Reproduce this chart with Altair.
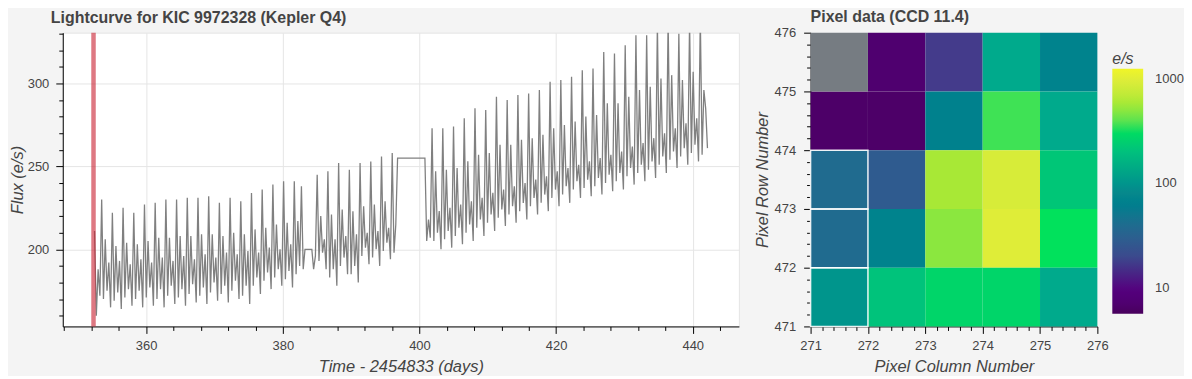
import numpy as np
import pandas as pd
import altair as alt

FONT = "Liberation Sans"
TXT = "#444444"
BG = "#f4f4f4"

# ---------------- Light curve (flux in e/s) ----------------
seg_a_span = [352.45, 383.25]
seg_a_flux = [
    211, 160, 188, 172,
    230, 170, 206, 175, 192, 165,
    222, 169, 202, 174, 193, 164,
    225, 171, 204, 176, 191, 166,
    222, 170, 203, 175, 194, 165,
    227, 171, 205, 177, 192, 166,
    228, 170, 207, 176, 195, 165,
    230, 172, 207, 178, 193, 167,
    230, 171, 208, 176, 196, 166,
    231, 173, 208, 179, 194, 168,
    231, 172, 209, 177, 197, 167,
    232, 174, 209, 180, 195, 169,
    228, 173, 208, 178, 198, 168,
    231, 175, 210, 181, 197, 170,
    229, 172, 209, 178, 199, 167,
    234, 178, 212, 183, 198, 173,
    236, 181, 213, 186, 201, 176,
    239, 183, 215, 188, 200, 178,
    241, 182, 216, 187, 203, 177,
    241, 185, 217, 190, 238, 188,
    200,
]
seg_b_span = [384.25, 396.80]
seg_b_flux = [
    200, 188, 196,
    245, 193, 220, 198, 206, 188,
    247, 183, 221, 188, 206, 178,
    252, 190, 224, 195, 208, 185,
    248, 185, 223, 190, 209, 180,
    252, 196, 226, 201, 210, 191,
    253, 195, 227, 200, 211, 190,
    256, 199, 229, 204, 213, 194,
    258, 198, 215,
    255,
]
seg_c_span = [400.80, 442.15]
seg_c_flux = [
    255, 205, 218, 207,
    273, 205, 247, 210, 223, 200,
    273, 206, 248, 211, 225, 201,
    274, 208, 249, 213, 227, 203,
    279, 210, 253, 215, 229, 205,
    285, 213, 257, 218, 231, 208,
    284, 216, 258, 221, 234, 211,
    292, 219, 263, 224, 236, 214,
    290, 221, 263, 226, 238, 216,
    293, 223, 266, 228, 240, 218,
    294, 226, 267, 231, 242, 221,
    296, 228, 269, 233, 244, 223,
    301, 231, 273, 236, 247, 226,
    302, 233, 275, 238, 249, 228,
    304, 236, 277, 241, 251, 231,
    308, 237, 280, 242, 253, 232,
    309, 238, 281, 243, 255, 233,
    319, 240, 288, 245, 257, 235,
    318, 241, 288, 246, 259, 236,
    323, 244, 292, 249, 262, 239,
    329, 246, 296, 251, 264, 241,
    329, 248, 298, 253, 267, 243,
    336, 251, 303, 256, 270, 246,
    338, 254, 305, 259, 273, 249,
    330, 256, 302, 261, 276, 251,
    337, 258, 307, 263, 279, 253,
    340, 257, 296, 285, 261,
]
selected_time = [352.3]

# ---------------- Pixel data (e/s) ----------------
pixel_rows = [475, 474, 473, 472, 471]
pixel_cols = [271, 272, 273, 274, 275]
pixel_flux = [
    [None, 7, 16, 144, 71],
    [6.5, 6.5, 67, 360, 144],
    [39, 28, 590, 910, 222],
    [39, 71, 500, 1000, 325],
    [100, 210, 275, 275, 144],
]
aperture_cols = [271, 271, 271]
aperture_rows = [471, 472, 473]

# colour bar as rendered in the figure (low -> high, log spaced)
colorbar_colors = [
    "#48005c", "#500073", "#54007d", "#4e1e87", "#433e8b", "#394e8d", "#2f5c8f",
    "#23698f", "#12758e", "#007f8d", "#0a8a8b", "#009b8c", "#00aa8c", "#00bc80",
    "#00cd70", "#00e15c", "#69e44b", "#a0e837", "#c3ea37", "#dcec3a", "#f0f528",
]

# ---------------- tables ----------------
segments = [(seg_a_span, seg_a_flux), (seg_b_span, seg_b_flux), (seg_c_span, seg_c_flux)]
times = np.concatenate([np.linspace(s[0], s[1], len(f)) for s, f in segments])
fluxes = np.concatenate([np.array(f, dtype=float) for _, f in segments])
lc_df = pd.DataFrame({"time": times, "flux": fluxes})
sel_df = pd.DataFrame({"time": selected_time})

cells = []
for r, row_vals in zip(pixel_rows, pixel_flux):
    for c, v in zip(pixel_cols, row_vals):
        cells.append({"col": c, "row": r, "col_end": c + 1, "row_end": r + 1, "value": v})
px_df = pd.DataFrame(cells)
ap_df = pd.DataFrame({"col": aperture_cols, "row": aperture_rows,
                      "col_end": [c + 1 for c in aperture_cols],
                      "row_end": [r + 1 for r in aperture_rows]})


def cond(test, a, b):
    return {"condition": {"test": test, "value": a}, "value": b}


def make_axis(title, values, major, grid, label_pad, title_pad, label_text="datum.label"):
    kw = dict(
        title=title, values=values,
        labelExpr=f"({major}) ? {label_text} : ''",
        tickSize=cond(major, 7, 4),
        grid=grid, gridColor="#e5e5e5",
        domainColor="#000000", tickColor="#000000",
        labelColor=TXT, labelFontSize=13, labelFont=FONT,
        labelPadding=label_pad, labelFlush=False, labelOverlap=False,
        titleFont=FONT, titleFontSize=16.5, titleFontStyle="italic",
        titleFontWeight="normal", titleColor=TXT, titlePadding=title_pad,
    )
    if grid:
        kw["gridOpacity"] = cond(major, 1, 0)
    return alt.Axis(**kw)


# ---------------- left: light curve ----------------
xmaj = "datum.value % 20 === 0"
ymaj = "datum.value % 50 === 0"
lc_x = alt.X("time:Q", scale=alt.Scale(domain=[347.8, 446.75], nice=False, zero=False),
             axis=make_axis("Time - 2454833 (days)", list(range(348, 447, 4)), xmaj, True, 6, 6))
lc_y = alt.Y("flux:Q", scale=alt.Scale(domain=[153.5, 330.6], nice=False, zero=False),
             axis=make_axis("Flux (e/s)", list(range(160, 331, 10)), ymaj, True, 7, 2))

line = alt.Chart(lc_df).mark_line(color="gray", strokeWidth=1.3, clip=True).encode(x=lc_x, y=lc_y)
band = alt.Chart(sel_df).mark_rule(color="#c81e2f", opacity=0.6, strokeWidth=4.5).encode(x=lc_x)

left = alt.layer(line, band).properties(
    width=679, height=295,
    title=alt.TitleParams("Lightcurve for KIC 9972328 (Kepler Q4)", anchor="start", frame="group",
                          font=FONT, fontSize=16, fontWeight="bold", color=TXT,
                          offset=2, dx=-12),
    view=alt.ViewBackground(fill="white", stroke="#e5e5e5"),
)

# ---------------- right: pixel data ----------------
pmaj = "abs(datum.value - round(datum.value)) < 0.01"
plabel = "format(datum.value, '.0f')"
pvals = [round(271 + 0.2 * i, 1) for i in range(26)]
rvals = [round(471 + 0.2 * i, 1) for i in range(26)]
px_x = alt.X("col:Q", scale=alt.Scale(domain=[271, 276], nice=False, zero=False),
             axis=make_axis("Pixel Column Number", pvals, pmaj, False, 6, 6, plabel))
px_y = alt.Y("row:Q", scale=alt.Scale(domain=[471, 476], nice=False, zero=False),
             axis=make_axis("Pixel Row Number", rvals, pmaj, False, 8, 4, plabel))

heat = alt.Chart(px_df).transform_filter("isValid(datum.value)").mark_rect().encode(
    x=px_x, x2="col_end:Q", y=px_y, y2="row_end:Q",
    color=alt.Color("value:Q",
                    scale=alt.Scale(type="log", domain=[5.6, 1257], range=colorbar_colors),
                    legend=alt.Legend(
                        title="e/s", orient="none", legendX=1054, legendY=18.3,
                        direction="vertical", gradientLength=246, gradientThickness=31,
                        gradientStrokeWidth=0, values=[10, 100, 1000], format="d",
                        labelFont=FONT, labelFontSize=13, labelColor=TXT, labelOffset=12,
                        titleFont=FONT, titleFontSize=16, titleFontStyle="italic",
                        titleFontWeight="normal", titleColor=TXT, titlePadding=2,
                        padding=0)),
)
nan_cells = alt.Chart(px_df).transform_filter("!isValid(datum.value)").mark_rect(
    color="#767c82").encode(x=px_x, x2="col_end:Q", y=px_y, y2="row_end:Q")
aperture = alt.Chart(ap_df).mark_rect(filled=False, stroke="white", strokeWidth=1.5,
                                      strokeOpacity=0.9).encode(
    x=px_x, x2="col_end:Q", y=px_y, y2="row_end:Q")

right = alt.layer(heat, nan_cells, aperture).properties(
    width=288, height=295,
    title=alt.TitleParams("Pixel data (CCD 11.4)", anchor="start", frame="group",
                          font=FONT, fontSize=16, fontWeight="bold", color=TXT,
                          offset=2),
    view=alt.ViewBackground(fill=None, stroke=None),
)

chart = alt.hconcat(left, right, spacing=72, bounds="flush").properties(
    background=BG, padding={"left": 0, "top": 0, "right": 0, "bottom": 0},
)

chart.save("out.html", embed_options={"renderer": "svg", "actions": False})
